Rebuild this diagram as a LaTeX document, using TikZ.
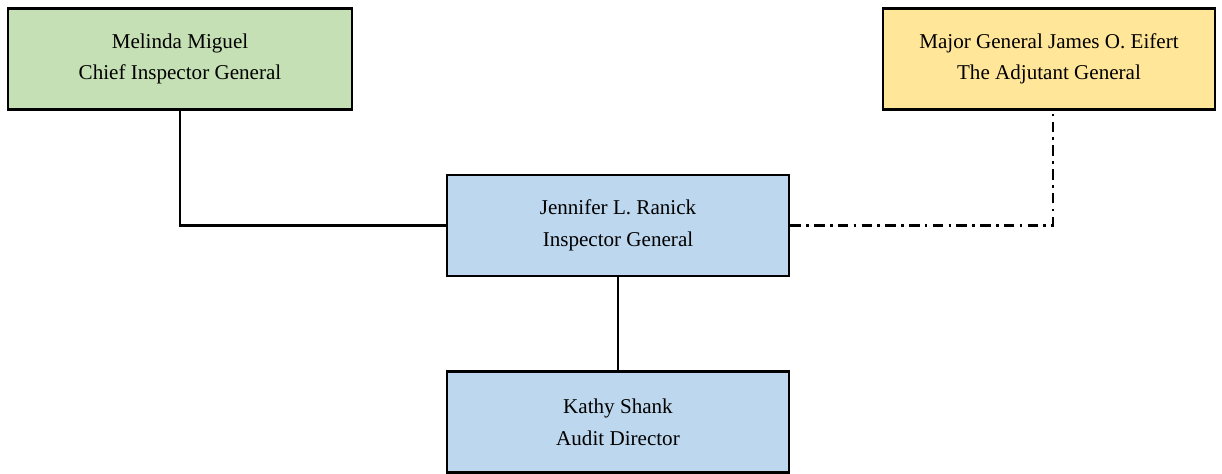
\documentclass[tikz,border=0pt]{standalone}
\usepackage{fontspec}
\setmainfont{Liberation Serif}
\usetikzlibrary{positioning}
\definecolor{cigreen}{HTML}{C5E0B4}
\definecolor{tagyellow}{HTML}{FFE699}
\definecolor{igblue}{HTML}{BDD7EE}
\begin{document}
\begin{tikzpicture}[
     node distance = 18.6mm and 3mm,
        box/.style = {rectangle, draw, line width=1.6pt, align=center,
                      font=\fontsize{12}{18}\selectfont,
                      minimum width=68.4mm, minimum height=20.2mm},
       link/.style = {line width=1.6pt},
     dotlink/.style = {line width=1.6pt, dash pattern=on 6pt off 3pt on 1.5pt off 3pt}
                        ]
\useasboundingbox (0,0) rectangle (24.44,9.48);
\node (ci) [box, fill=cigreen, minimum width=68.8mm] at (3.6,8.3)
      {Melinda Miguel\\Chief Inspector General};
\node (tag)[box, fill=tagyellow, minimum width=66.4mm] at (20.98,8.3)
      {Major General James O. Eifert\\The Adjutant General};
\node (ig) [box, fill=igblue] at (12.36,4.97)
      {Jennifer L. Ranick\\Inspector General};
\node (ad) [box, fill=igblue, below =of ig]
      {Kathy Shank\\Audit Director};
\draw[link] (ci.south) |- (ig.west);
\draw[dotlink] (ig.east) -| ([xshift=0.8mm]tag.south);
\draw[link] (ig) to (ad);
\end{tikzpicture}
\end{document}
